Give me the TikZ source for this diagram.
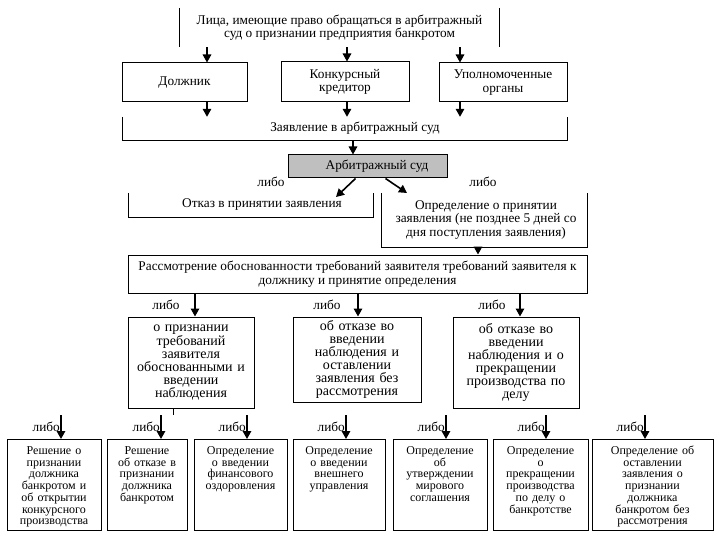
\documentclass[tikz,border=0pt]{standalone}
\usepackage{fontspec}
\setmainfont{Liberation Serif}
\usetikzlibrary{arrows.meta}
\tikzset{
  arr/.style={-{Triangle[length=8pt,width=8.5pt]}, line width=1.6pt},
  boxline/.style={draw, line width=1pt},
  txt/.style={align=center, inner sep=0pt, font=\fontsize{13.3}{13.5}\selectfont},
  bigtxt/.style={align=center, inner sep=0pt, font=\fontsize{14}{12.9}\selectfont},
  smalltxt/.style={align=center, inner sep=0pt, font=\fontsize{12}{11.7}\selectfont},
  libo/.style={inner sep=0pt, font=\fontsize{13.3}{13}\selectfont},
  decision/.style={boxline, smalltxt, anchor=north, text height=15pt, text depth=76pt}
}
\begin{document}
\begin{tikzpicture}[x=1pt, y=-1pt]
  \useasboundingbox (0,0) rectangle (720,540);

  \node[txt, minimum width=319, minimum height=39] (persons) at (339.5,27.5) {Лица, имеющие право обращаться в арбитражный\\суд о признании предприятия банкротом};
  \draw[boxline] (persons.north west) -- (persons.south west);
  \draw[boxline] (persons.north east) -- (persons.south east);

  \node[txt, boxline, minimum width=125, minimum height=39] (debtor) at (184.5,82.5) {Должник};
  \node[txt, boxline, minimum width=128, minimum height=40] (creditor) at (345,82) {Конкурсный\\кредитор};
  \node[txt, boxline, minimum width=128, minimum height=39] (organs) at (503,82.5) {Уполномоченные\\органы};

  \node[txt, minimum height=23] (claim) at (355,128.5) {Заявление в арбитражный суд};
  \coordinate (claimL) at (122,0);
  \coordinate (claimR) at (567,0);
  \draw[boxline] (claim.north -| claimL) -- (claim.south -| claimL) -- (claim.south -| claimR) -- (claim.north -| claimR);

  \coordinate (p1) at (207,0);
  \coordinate (p2) at (347,0);
  \coordinate (p3) at (460,0);
  \draw[arr] (persons.south -| p1) -- (debtor.north -| p1);
  \draw[arr] (persons.south -| p2) -- (creditor.north -| p2);
  \draw[arr] (persons.south -| p3) -- (organs.north -| p3);
  \draw[arr] (debtor.south -| p1) -- (claim.north -| p1);
  \draw[arr] (creditor.south -| p2) -- (claim.north -| p2);
  \draw[arr] (organs.south -| p3) -- (claim.north -| p3);

  \node[txt, boxline, fill=gray!50, minimum width=159, minimum height=23] (court) at (367.5,166.5) {\hspace*{19pt}Арбитражный суд};
  \coordinate (c1) at (353,0);
  \draw[arr] (claim.south -| c1) -- (court.north -| c1);

  \node[libo] (or1) at (271,182) {либо};
  \node[libo] (or2) at (483,182) {либо};

  \node[txt, minimum height=24] (refusal) at (262,205) {Отказ в принятии заявления};
  \coordinate (refL) at (128,0);
  \coordinate (refR) at (373,0);
  \draw[boxline] (refusal.north -| refL) -- (refusal.south -| refL) -- (refusal.south -| refR) -- (refusal.north -| refR);

  \node[txt, minimum height=54] (accept) at (486,220) {Определение о принятии\\заявления (не позднее 5 дней со\\дня поступления заявления)};
  \coordinate (accL) at (381,0);
  \coordinate (accR) at (587,0);
  \draw[boxline] (accept.north -| accL) -- (accept.south -| accL) -- (accept.south -| accR) -- (accept.north -| accR);

  \coordinate (t1) at (336,197);
  \coordinate (t2) at (407,193);
  \draw[arr] ([xshift=-12pt]court.south) -- (t1);
  \draw[arr] ([xshift=18pt]court.south) -- (t2);

  \node[txt, boxline, minimum width=459, minimum height=38] (review) at (357.5,274) {Рассмотрение обоснованности требований заявителя требований заявителя к\\должнику и принятие определения};
  \coordinate (r1) at (478,0);
  \draw[arr] (accept.south -| r1) -- (review.north -| r1);

  \node[bigtxt, boxline, text width=126, minimum height=91] (grounded) at (191,362.5) {о признании\\требований\\заявителя\\обоснованными и\\введении\\наблюдения};
  \node[bigtxt, boxline, text width=128, minimum height=85] (noreview) at (357,359.5) {об отказе во\\введении\\наблюдения и\\оставлении\\заявления без\\рассмотрения};
  \node[bigtxt, boxline, text width=126, minimum height=91] (stopcase) at (516,362.5) {об отказе во\\введении\\наблюдения и о\\прекращении\\производства по\\делу};

  \coordinate (q1) at (195,0);
  \coordinate (q2) at (358,0);
  \coordinate (q3) at (520,0);
  \draw[arr] (review.south -| q1) -- (grounded.north -| q1);
  \draw[arr] (review.south -| q2) -- (noreview.north -| q2);
  \draw[arr] (review.south -| q3) -- (stopcase.north -| q3);
  \node[libo] (or3) at (166,305) {либо};
  \node[libo] (or4) at (327,305) {либо};
  \node[libo] (or5) at (492,305) {либо};

  \coordinate (k) at (173,415);
  \draw[boxline] (grounded.south -| k) -- (k);

  \node[decision, text width=94] (dec1) at (54,439) {Решение о\\признании\\должника\\банкротом и\\об открытии\\конкурсного\\производства};
  \node[decision, text width=80] (dec2) at (147,439) {Решение\\об отказе в\\признании\\должника\\банкротом};
  \node[decision, text width=93] (dec3) at (240.5,439) {Определение\\о введении\\финансового\\оздоровления};
  \node[decision, text width=92] (dec4) at (339,439) {Определение\\о введении\\внешнего\\управления};
  \node[decision, text width=94] (dec5) at (440,439) {Определение\\об\\утверждении\\мирового\\соглашения};
  \node[decision, text width=95] (dec6) at (540.5,439) {Определение\\о\\прекращении\\производства\\по делу о\\банкротстве};
  \node[decision, text width=121] (dec7) at (652.5,439) {Определение об\\оставлении\\заявления о\\признании\\должника\\банкротом без\\рассмотрения};

  \coordinate (s1) at (61,415);
  \coordinate (s2) at (161,415);
  \coordinate (s3) at (247,415);
  \coordinate (s4) at (346,415);
  \coordinate (s5) at (446,415);
  \coordinate (s6) at (546,415);
  \coordinate (s7) at (645,415);
  \draw[arr] (s1) -- (s1 |- dec1.north);
  \draw[arr] (s2) -- (s2 |- dec2.north);
  \draw[arr] (s3) -- (s3 |- dec3.north);
  \draw[arr] (s4) -- (s4 |- dec4.north);
  \draw[arr] (s5) -- (s5 |- dec5.north);
  \draw[arr] (s6) -- (s6 |- dec6.north);
  \draw[arr] (s7) -- (s7 |- dec7.north);
  \node[libo, anchor=east] (or6) at (60,427) {либо};
  \node[libo, anchor=east] (or7) at (160,427) {либо};
  \node[libo, anchor=east] (or8) at (246,427) {либо};
  \node[libo, anchor=east] (or9) at (345,427) {либо};
  \node[libo, anchor=east] (or10) at (445,427) {либо};
  \node[libo, anchor=east] (or11) at (545,427) {либо};
  \node[libo, anchor=east] (or12) at (644,427) {либо};
\end{tikzpicture}
\end{document}
